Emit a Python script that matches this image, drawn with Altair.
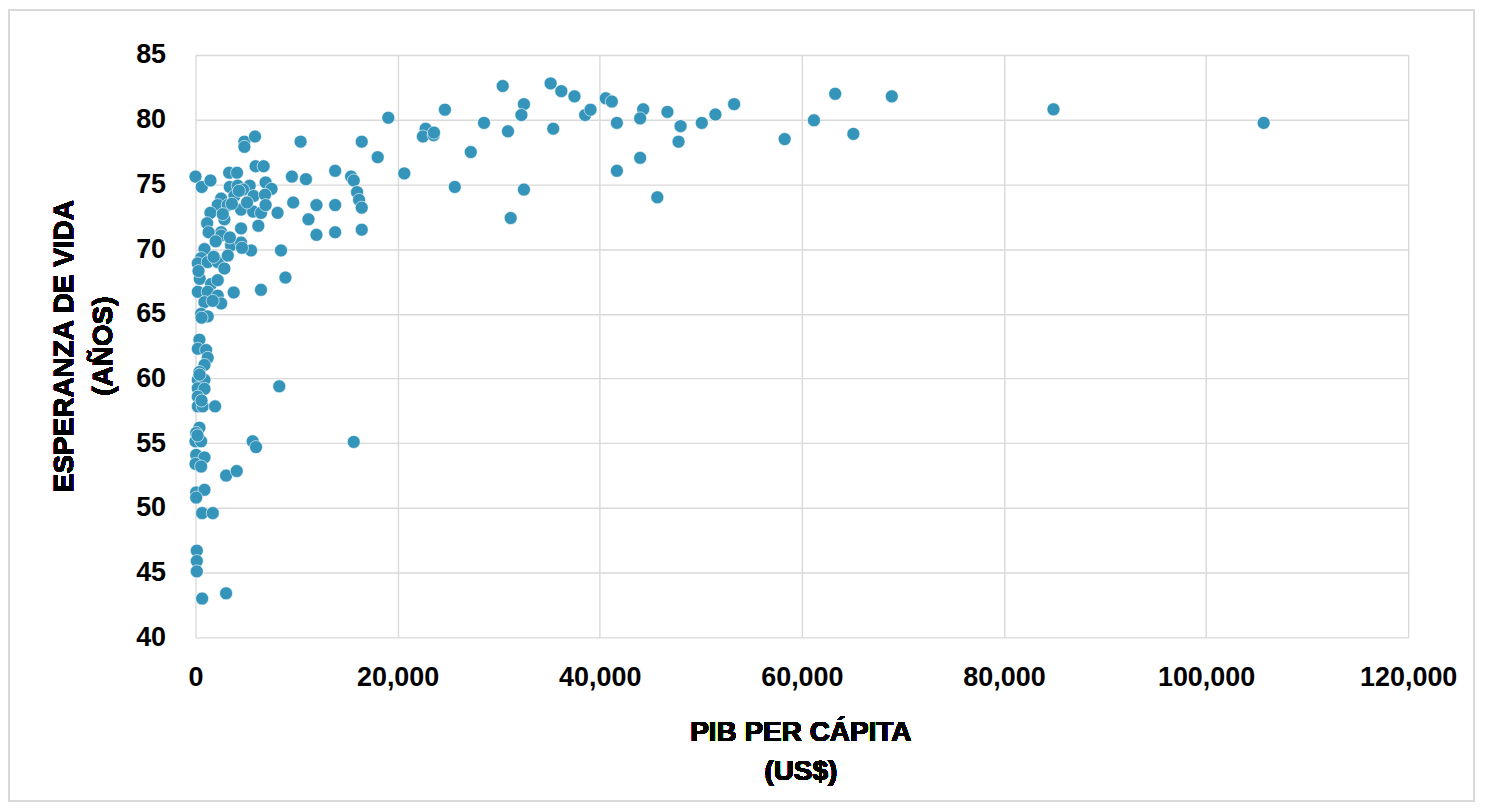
import altair as alt
import pandas as pd

# PIB per cápita (US$) and esperanza de vida (años)
gdp = [105700, 84900, 63300, 68900, 58300, 61200, 65100, 53300, 51450, 50100,
       48000, 47800, 46700, 45700, 44300, 44000, 44000, 41700, 41700, 40600,
       41200, 38560, 39090, 37500, 36200, 35140, 35400, 32500, 32250, 30920,
       32500, 31190, 30400, 28550, 27240, 25660, 24680, 22770, 22500, 23560,
       23600, 19080, 18030, 20660,
       10400, 16450, 9540, 10930, 13820, 15400, 15660, 15990, 16190, 16450,
       16450, 9670, 11970, 13820, 11180, 11970, 13820, 8900,
       0, 620, 1480, 4840, 5890, 4840, 5950, 6740, 3330, 4110,
       3390, 4180, 5360, 4710, 6940, 7530, 5750, 6880, 2540, 2200,
       3190, 3850, 1480, 1150, 2860, 4510, 5700, 6490, 8120, 6940,
       4510, 6220, 2540, 2540, 3520, 4510, 5500, 8460, 6480, 3780,
       890, 560, 230, 1210, 2200, 2860, 420, 1550, 2200,
       230, 1210, 2200, 2540, 890, 560, 1210,
       390, 230, 1050, 1210, 890, 390, 230, 890, 230, 890, 230, 230, 720, 1940,
       390, 70, 0, 560, 5660, 5990, 15660,
       70, 890, 0, 560, 3030, 4080,
       70, 890, 70, 660, 1710,
       130, 130, 130, 660, 3030,
       8290,
       1300, 1800, 3200, 3400, 4600, 2000, 2700, 3600, 4300, 5100,
       1700, 600, 300, 400, 600, 200]

life = [79.75, 80.8, 82.0, 81.8, 78.5, 79.95, 78.9, 81.2, 80.4, 79.75,
        79.5, 78.3, 80.6, 74.0, 80.8, 80.1, 77.05, 79.75, 76.05, 81.65,
        81.4, 80.36, 80.77, 81.8, 82.2, 82.8, 79.3, 81.2, 80.36, 79.1,
        74.6, 72.4, 82.6, 79.75, 77.5, 74.8, 80.77, 79.3, 78.7, 78.8,
        79.0, 80.15, 77.1, 75.85,
        78.3, 78.3, 75.6, 75.4, 76.05, 75.6, 75.3, 74.4, 73.8, 73.2,
        71.5, 73.6, 73.4, 73.4, 72.3, 71.1, 71.3, 67.8,
        75.6, 74.8, 75.3, 78.3, 78.7, 77.9, 76.4, 76.4, 75.9, 75.9,
        74.8, 74.9, 74.9, 74.6, 75.15, 74.65, 74.1, 74.2, 73.9, 73.4,
        73.4, 74.1, 72.8, 72.0, 72.3, 73.05, 72.9, 72.8, 72.8, 73.4,
        71.6, 71.8, 71.3, 71.05, 70.3, 70.5, 69.9, 69.9, 66.85, 66.65,
        70.0, 69.3, 68.9, 69.0, 69.0, 68.5, 67.7, 67.3, 67.6,
        66.7, 66.7, 66.4, 65.8, 65.9, 65.0, 64.8,
        63.0, 62.3, 62.2, 61.6, 61.05, 60.5, 59.9, 59.9, 59.25, 59.2, 58.6, 57.85, 57.85, 57.85,
        56.2, 55.8, 55.15, 55.15, 55.15, 54.7, 55.1,
        54.1, 53.9, 53.4, 53.2, 52.5, 52.85,
        51.2, 51.4, 50.8, 49.6, 49.6,
        46.7, 45.9, 45.1, 43.0, 43.4,
        59.4,
        71.3, 69.4, 69.5, 70.9, 70.1, 70.6, 72.7, 73.5, 74.5, 73.6,
        66.0, 64.7, 68.3, 60.3, 58.3, 55.6]

x_ticks = [0, 20000, 40000, 60000, 80000, 100000, 120000]
y_ticks = [40, 45, 50, 55, 60, 65, 70, 75, 80, 85]

x_title = ["PIB PER CÁPITA", "(US$)"]
y_title = ["ESPERANZA DE VIDA", "(AÑOS)"]

df = pd.DataFrame({"gdp": gdp, "life": life})

W, H = 1216, 584
FONT = "Liberation Sans"

points = alt.Chart(df).mark_point(
    shape="circle", filled=True, size=170, color="#3494BA",
    stroke="white", strokeWidth=0.6, opacity=1
).encode(
    x=alt.X("gdp:Q", scale=alt.Scale(domain=[0, 120000], nice=False),
            axis=alt.Axis(values=x_ticks, format=",.0f", title=None,
                          labelPadding=27)),
    y=alt.Y("life:Q", scale=alt.Scale(domain=[40, 85], nice=False, zero=False),
            axis=alt.Axis(values=y_ticks, format="d", title=None, labelPadding=30)),
)

border = alt.Chart(df).mark_rect(
    fill=None, stroke="#D9D9D9", strokeWidth=1.5
).encode(
    x=alt.value(-187), x2=alt.value(1282),
    y=alt.value(-45), y2=alt.value(748),
)

def txt(s, x, y, angle=0):
    return alt.Chart(df).mark_text(
        text=s, font=FONT, fontSize=28, fontWeight="bold", color="#000000",
        align="center", baseline="alphabetic", angle=angle
    ).encode(x=alt.value(x), y=alt.value(y))

titles = [
    txt(x_title[0], 607, 688),
    txt(x_title[1], 607, 727),
    txt(y_title[0], -123, 292, 270),
    txt(y_title[1], -84, 292, 270),
]

chart = alt.layer(border, points, *titles).properties(
    width=W, height=H,
    autosize=alt.AutoSizeParams(type="none"),
    padding={"left": 188, "top": 46, "right": 70, "bottom": 168},
).configure_view(stroke=None).configure_axis(
    labelFont=FONT, labelFontSize=27, labelFontWeight="bold",
    labelColor="#000000", domain=False, ticks=False,
    grid=True, gridColor="#D9D9D9", gridWidth=1.4,
    labelOverlap=False, labelFlush=False,
)

chart.save("out.html", embed_options={"renderer": "svg", "actions": False})
